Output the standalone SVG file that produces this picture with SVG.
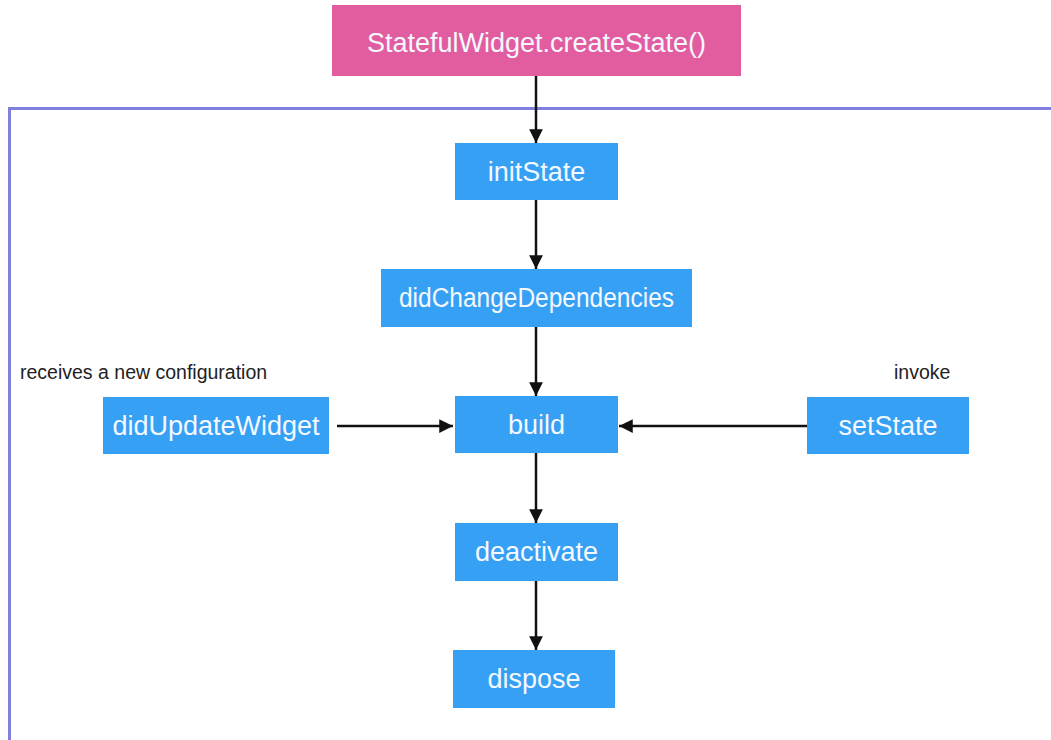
<svg xmlns="http://www.w3.org/2000/svg" width="1051" height="740" viewBox="0 0 1051 740">
<style>
.n{fill:#36a0f4}
.p{fill:#e25da0}
.t{font-family:"Liberation Sans",Arial,sans-serif;font-size:27px;fill:#f4f8ff;text-anchor:middle;dominant-baseline:central}
.l{font-family:"Liberation Sans",Arial,sans-serif;font-size:19.5px;fill:#222}
.c{stroke:#111;stroke-width:2.5;fill:none;marker-end:url(#ah)}
</style>
<defs>
<marker id="ah" viewBox="0 0 10 10" refX="10" refY="5" markerWidth="5.5" markerHeight="5.5" orient="auto" markerUnits="strokeWidth">
<path d="M0,0 L10,5 L0,10 z" fill="#111"/>
</marker>
</defs>
<rect width="1051" height="740" fill="#fff"/>
<rect id="frame" x="9.5" y="108.5" width="1050" height="640" fill="none" stroke="#7f7fdc" stroke-width="3"/>
<g id="connectors">
<line class="c" x1="536" y1="76" x2="536" y2="143"/>
<line class="c" x1="536" y1="200" x2="536" y2="269"/>
<line class="c" x1="536" y1="327" x2="536" y2="396"/>
<line class="c" x1="536" y1="453" x2="536" y2="523"/>
<line class="c" x1="536" y1="581" x2="536" y2="650"/>
<line class="c" x1="337" y1="426" x2="453" y2="426"/>
<line class="c" x1="807" y1="426" x2="619" y2="426"/>
</g>
<g id="createState"><rect class="p" x="332" y="5" width="409" height="71"/><text class="t" x="536.5" y="43">StatefulWidget.createState()</text></g>
<g id="initState"><rect class="n" x="455" y="143" width="163" height="57"/><text class="t" x="536.5" y="172">initState</text></g>
<g id="didChangeDependencies"><rect class="n" x="381" y="269" width="311" height="58"/><text class="t" x="536.5" y="298" textLength="275" lengthAdjust="spacingAndGlyphs">didChangeDependencies</text></g>
<g id="build"><rect class="n" x="455" y="396" width="163" height="57"/><text class="t" x="536.5" y="425">build</text></g>
<g id="didUpdateWidget"><rect class="n" x="103" y="397" width="226" height="57"/><text class="t" x="216" y="426">didUpdateWidget</text></g>
<g id="setState"><rect class="n" x="807" y="397" width="162" height="57"/><text class="t" x="888" y="426">setState</text></g>
<g id="deactivate"><rect class="n" x="455" y="523" width="163" height="58"/><text class="t" x="536.5" y="552">deactivate</text></g>
<g id="dispose"><rect class="n" x="453" y="650" width="162" height="58"/><text class="t" x="534" y="679">dispose</text></g>
<text class="l" x="20" y="379">receives a new configuration</text>
<text class="l" x="894" y="379">invoke</text>
</svg>
